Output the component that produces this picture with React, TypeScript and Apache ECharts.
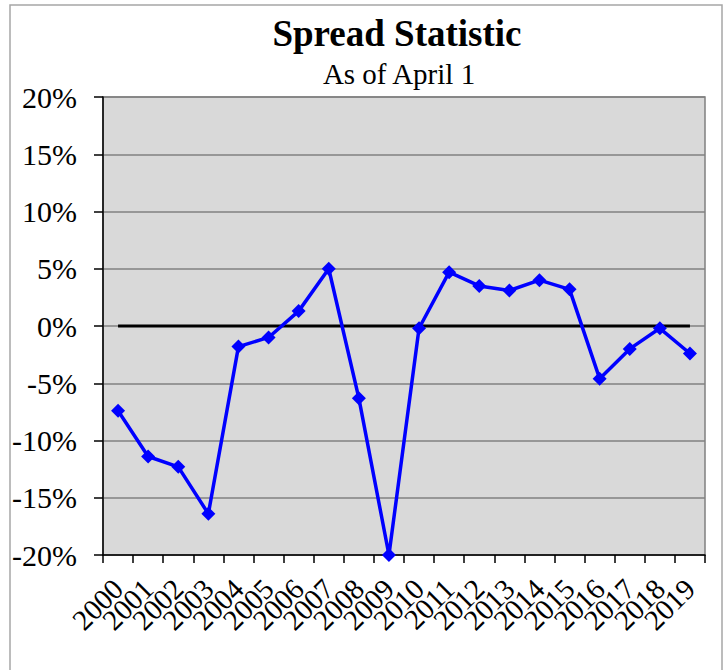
import React, { useEffect, useRef } from "react";
import * as echarts from "echarts";

const years = [
  "2000", "2001", "2002", "2003", "2004", "2005", "2006", "2007", "2008", "2009",
  "2010", "2011", "2012", "2013", "2014", "2015", "2016", "2017", "2018", "2019",
];
const spread = [
  -7.4, -11.4, -12.3, -16.4, -1.8, -1.0, 1.3, 5.0, -6.3, -20.0,
  -0.2, 4.7, 3.5, 3.1, 4.0, 3.2, -4.6, -2.0, -0.2, -2.4,
];
const zeroLine = years.map(() => 0);
const titleText = "Spread Statistic";
const subtitleText = "As of April 1";

const FONT = '"Liberation Serif", "Times New Roman", serif';

export default function App() {
  const ref = useRef<HTMLDivElement>(null);
  useEffect(() => {
    if (!ref.current) return;
    const chart = echarts.init(ref.current, null, { renderer: "svg" });
    chart.setOption({
      animation: false,
      backgroundColor: "#ffffff",
      graphic: [
        {
          type: "rect",
          shape: { x: 10, y: 5, width: 712, height: 680 },
          style: { fill: "none", stroke: "#a6a6a6", lineWidth: 1.5 },
          z: 0,
        },
        {
          type: "text",
          x: 397,
          y: 33,
          style: {
            text: titleText,
            font: `bold 37px ${FONT}`,
            fill: "#000",
            textAlign: "center",
            textVerticalAlign: "middle",
          },
        },
        {
          type: "text",
          x: 399,
          y: 74,
          style: {
            text: subtitleText,
            font: `29px ${FONT}`,
            fill: "#000",
            textAlign: "center",
            textVerticalAlign: "middle",
          },
        },
      ],
      grid: {
        left: 103,
        right: 21,
        top: 97,
        bottom: 115,
        show: true,
        backgroundColor: "#d9d9d9",
        borderColor: "#808080",
        borderWidth: 1.5,
        containLabel: false,
      },
      xAxis: {
        type: "category",
        data: years,
        boundaryGap: true,
        axisLine: { show: true, onZero: false, lineStyle: { color: "#000", width: 1.5 } },
        axisTick: { show: true, length: 8, alignWithLabel: false, interval: 0, lineStyle: { color: "#000", width: 1.5 } },
        axisLabel: {
          interval: 0,
          rotate: 45,
          margin: 29,
          fontFamily: FONT,
          fontSize: 29,
          color: "#000",
        },
        splitLine: { show: false },
      },
      yAxis: {
        type: "value",
        min: -20,
        max: 20,
        interval: 5,
        axisLine: { show: true, lineStyle: { color: "#000", width: 1.5 } },
        axisTick: { show: true, length: 9, lineStyle: { color: "#000", width: 1.5 } },
        axisLabel: {
          formatter: (v: number) => `${v}%`,
          margin: 26,
          fontFamily: FONT,
          fontSize: 30,
          color: "#000",
        },
        splitLine: { show: true, lineStyle: { color: "#808080", width: 1.5 } },
      },
      series: [
        {
          type: "line",
          data: zeroLine,
          symbol: "none",
          lineStyle: { color: "#000", width: 3 },
          z: 2,
        },
        {
          type: "line",
          data: spread,
          symbol: "diamond",
          symbolSize: 14,
          itemStyle: { color: "#0000ff" },
          lineStyle: { color: "#0000ff", width: 3.5 },
          z: 3,
        },
      ],
    });
    return () => chart.dispose();
  }, []);
  return (
    <div
      ref={ref}
      style={{ position: "fixed", left: 0, top: 0, width: 726, height: 670 }}
    />
  );
}
